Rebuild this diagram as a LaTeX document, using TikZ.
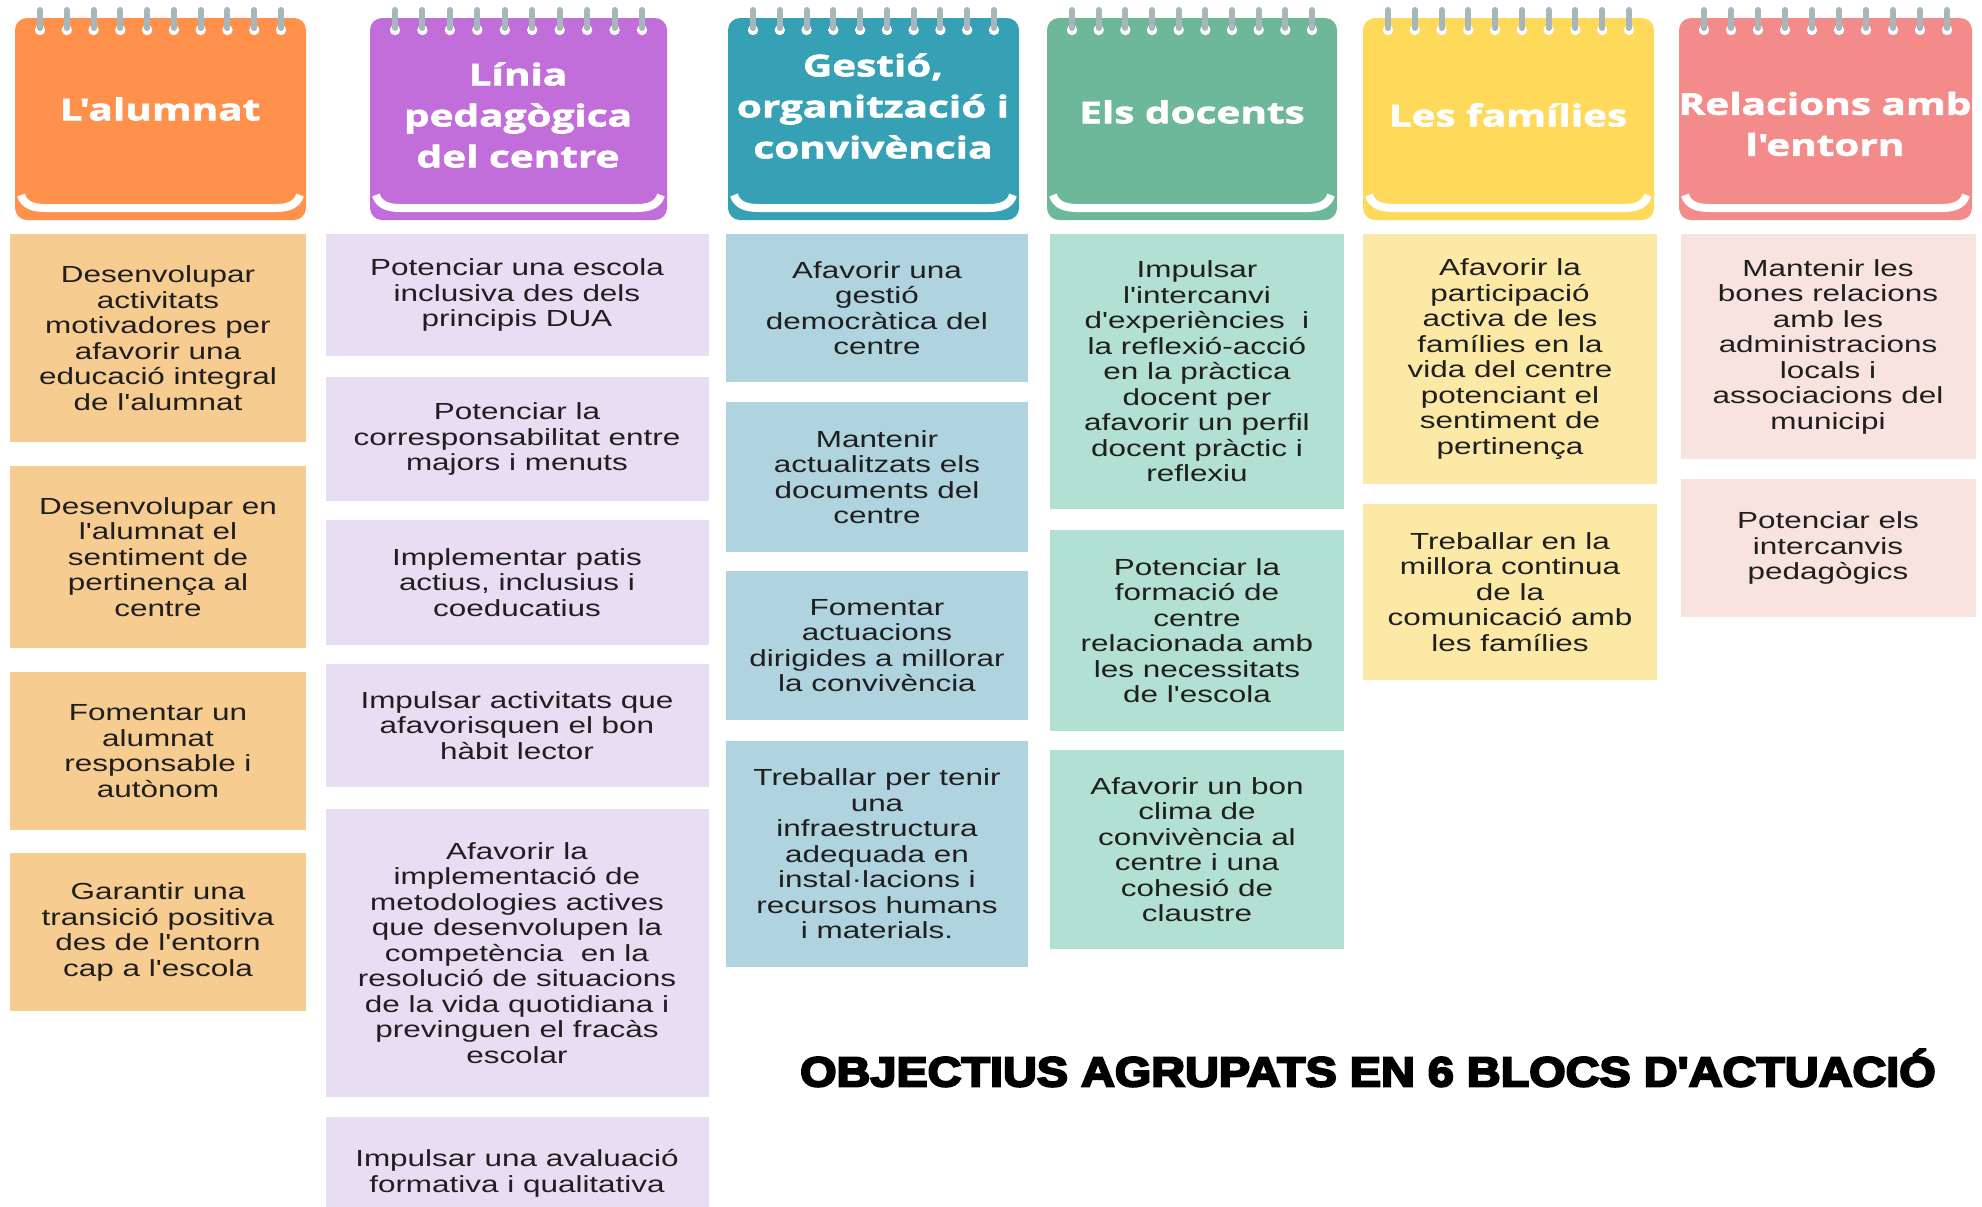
\documentclass[tikz,border=0pt]{standalone}
\usepackage{fontspec}
\setmainfont{Liberation Sans}
\newfontfamily\boxfont[Ligatures=TeXOff,FakeStretch=1.35]{Liberation Sans}
\newfontfamily\headfont[Ligatures=TeXOff,FakeStretch=1.35,BoldFeatures={FakeBold=2}]{Open Sans}
\newfontfamily\titlefont[Ligatures=TeXOff,FakeStretch=1.12,BoldFeatures={FakeBold=5}]{Liberation Sans}
\usepackage{tikz}
\usetikzlibrary{positioning}
\usetikzlibrary{calc}

\definecolor{hOrange}{HTML}{FF914D}
\definecolor{hPurple}{HTML}{C16EDA}
\definecolor{hTeal}{HTML}{36A0B4}
\definecolor{hGreen}{HTML}{6CB899}
\definecolor{hYellow}{HTML}{FFD95A}
\definecolor{hSalmon}{HTML}{F38B8A}
\definecolor{bOrange}{HTML}{F7CC90}
\definecolor{bPurple}{HTML}{E8DDF2}
\definecolor{bTeal}{HTML}{B0D3E0}
\definecolor{bGreen}{HTML}{B2E0D2}
\definecolor{bYellow}{HTML}{FCE9A6}
\definecolor{bSalmon}{HTML}{F8E3DE}
\definecolor{ringgray}{HTML}{A7B6BA}

\tikzset{
  objtext/.style={align=center, inner sep=0pt, text=black!88,
    font=\boxfont\fontsize{11.65}{12.75}\selectfont},
  headtxt/.style={align=center, inner sep=0pt, text=white,
    font=\headfont\bfseries\fontsize{15}{20.5}\selectfont},
}

\begin{document}
\begin{tikzpicture}[x=0.5pt, y=-0.5pt]

 \useasboundingbox (0,0) rectangle (1982,1206);
 \clip (0,0) rectangle (1982,1206);
 \fill[white] (0,0) rectangle (1982,1206);

 %notebook headers
 \foreach \n/\xl/\xr/\col in {1/15/306/hOrange, 2/370/667/hPurple, 3/728/1019/hTeal,
                              4/1047/1337/hGreen, 5/1363/1654/hYellow, 6/1679/1972/hSalmon} {
     \fill[\col, rounded corners=6pt] (\xl,18) rectangle (\xr,220);
     \draw[white, line width=4pt] (\xl+6,195) to[out=-75,in=180] (\xl+30,208)
          -- (\xr-30,208) to[out=0,in=-105] (\xr-6,195);
     \pgfmathsetmacro{\dx}{(\xr-\xl-50)/9}
     \foreach \k in {0,...,9} {
         \fill[white] (\xl+25+\k*\dx, 30) circle (2.6pt);
         \draw[ringgray, line width=3pt, line cap=round] (\xl+25+\k*\dx, 10) -- (\xl+25+\k*\dx, 28);
     }
 }

 \node[headtxt] (H1) at (160,109) {L'alumnat};
 \node[headtxt] (H2) at (518,115) {Línia\\pedagògica\\del centre};
 \node[headtxt] (H3) at (873,106) {Gestió,\\organització i\\convivència};
 \node[headtxt] (H4) at (1192,112) {Els docents};
 \node[headtxt] (H5) at (1508,115) {Les famílies};
 \node[headtxt] (H6) at (1825,124) {Relacions amb\\l'entorn};

 %column 1
 \foreach \i/\ya/\yb/\txt in {
     1/234/442/{Desenvolupar\\activitats\\motivadores per\\afavorir una\\educació integral\\de l'alumnat},
     2/466/648/{Desenvolupar en\\l'alumnat el\\sentiment de\\pertinença al\\centre},
     3/672/830/{Fomentar un\\alumnat\\responsable i\\autònom},
     4/853/1011/{Garantir una\\transició positiva\\des de l'entorn\\cap a l'escola}} {
         \fill[bOrange] (10,\ya) rectangle (306,\yb);
         \node[objtext] (A\i) at (158,{(\ya+\yb)/2}) {\txt};
 }

 %column 2
 \foreach \i/\ya/\yb/\txt in {
     1/234/356/{Potenciar una escola\\inclusiva des dels\\principis DUA},
     2/377/501/{Potenciar la\\corresponsabilitat entre\\majors i menuts},
     3/520/645/{Implementar patis\\actius, inclusius i\\coeducatius},
     4/664/787/{Impulsar activitats que\\afavorisquen el bon\\hàbit lector},
     5/809/1097/{Afavorir la\\implementació de\\metodologies actives\\que desenvolupen la\\competència\ \ en la\\resolució de situacions\\de la vida quotidiana i\\previnguen el fracàs\\escolar},
     6/1117/1230/{Impulsar una avaluació\\formativa i qualitativa}} {
         \fill[bPurple] (326,\ya) rectangle (709,\yb);
         \node[objtext] (P\i) at (517,{(\ya+\yb)/2}) {\txt};
 }

 %column 3
 \foreach \i/\ya/\yb/\txt in {
     1/234/382/{Afavorir una\\gestió\\democràtica del\\centre},
     2/402/552/{Mantenir\\actualitzats els\\documents del\\centre},
     3/571/720/{Fomentar\\actuacions\\dirigides a millorar\\la convivència},
     4/741/967/{Treballar per tenir\\una\\infraestructura\\adequada en\\instal·lacions i\\recursos humans\\i materials.}} {
         \fill[bTeal] (726,\ya) rectangle (1028,\yb);
         \node[objtext] (G\i) at (877,{(\ya+\yb)/2}) {\txt};
 }

 %column 4
 \foreach \i/\ya/\yb/\txt in {
     1/234/509/{Impulsar\\l'intercanvi\\d'experiències\ \ i\\la reflexió-acció\\en la pràctica\\docent per\\afavorir un perfil\\docent pràctic i\\reflexiu},
     2/530/731/{Potenciar la\\formació de\\centre\\relacionada amb\\les necessitats\\de l'escola},
     3/750/949/{Afavorir un bon\\clima de\\convivència al\\centre i una\\cohesió de\\claustre}} {
         \fill[bGreen] (1050,\ya) rectangle (1344,\yb);
         \node[objtext] (D\i) at (1197,{(\ya+\yb)/2}) {\txt};
 }

 %column 5
 \foreach \i/\ya/\yb/\txt in {
     1/234/484/{Afavorir la\\participació\\activa de les\\famílies en la\\vida del centre\\potenciant el\\sentiment de\\pertinença},
     2/504/680/{Treballar en la\\millora continua\\de la\\comunicació amb\\les famílies}} {
         \fill[bYellow] (1363,\ya) rectangle (1657,\yb);
         \node[objtext] (F\i) at (1510,{(\ya+\yb)/2}) {\txt};
 }

 %column 6
 \foreach \i/\ya/\yb/\txt in {
     1/234/459/{Mantenir les\\bones relacions\\amb les\\administracions\\locals i\\associacions del\\municipi},
     2/479/617/{Potenciar els\\intercanvis\\pedagògics}} {
         \fill[bSalmon] (1681,\ya) rectangle (1976,\yb);
         \node[objtext] (R\i) at (1828,{(\ya+\yb)/2}) {\txt};
 }

 %title
 \node[inner sep=0pt, font=\titlefont\bfseries\fontsize{20.9}{24}\selectfont] (title) at (1368,1068)
      {OBJECTIUS AGRUPATS EN 6 BLOCS D'ACTUACIÓ};

\end{tikzpicture}
\end{document}
